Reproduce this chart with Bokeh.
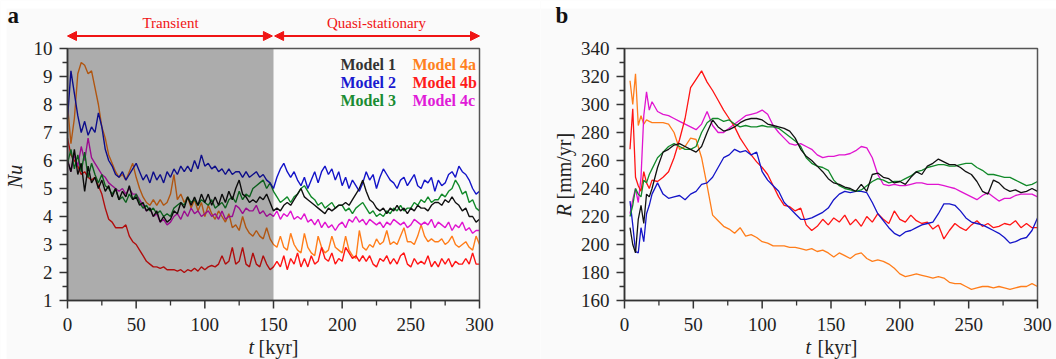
import math
from bokeh.plotting import figure
from bokeh.models import Range1d, Arrow, NormalHead
from bokeh.layouts import row
from bokeh.core.properties import value
from bokeh.embed import file_html
from bokeh.resources import INLINE

# ---------------- data: panel a (Nu vs t) ----------------
t_a = [i * 2.5 for i in range(121)]  # 0 .. 300 kyr

nu_model1 = [
    6.0, 5.6, 6.4, 5.5, 5.9, 4.9, 5.8, 5.2, 5.4, 5.0,
    5.3, 4.9, 5.1, 4.7, 5.0, 4.6, 4.9, 4.7, 5.1, 4.6,
    4.7, 4.4, 4.5, 4.2, 4.3, 4.0, 4.2, 3.8, 4.0, 3.8,
    3.9, 4.2, 4.1, 4.5, 4.3, 4.7, 4.4, 4.7, 4.4, 4.8,
    4.5, 4.8, 4.4, 4.7, 4.4, 4.8, 4.5, 4.9, 4.6, 5.0,
    5.3, 4.8, 4.7, 4.5, 4.6, 4.5, 4.7, 4.6, 4.8, 4.5,
    4.2, 4.3, 4.2, 4.4, 4.5, 4.4, 4.6, 4.8, 5.0, 4.7,
    4.6, 4.5, 4.4, 4.3, 4.2, 4.1, 4.3, 4.2, 4.3, 4.4,
    4.4, 4.5, 4.4, 4.6, 4.8, 5.0, 5.3, 4.9, 4.6, 4.5,
    4.3, 4.2, 4.3, 4.1, 4.3, 4.2, 4.4, 4.2, 4.3, 4.1,
    4.3, 4.2, 4.4, 4.3, 4.3, 4.2, 4.4, 4.5, 4.5, 4.4,
    4.6, 4.5, 4.7, 4.5, 4.4, 4.2, 4.3, 4.0, 4.0, 3.8,
    3.9]
nu_model2 = [
    7.5, 9.2, 8.4, 7.6, 7.0, 7.4, 6.9, 7.2, 7.0, 7.7,
    7.2, 6.4, 6.0, 5.8, 5.5, 5.4, 5.6, 5.3, 5.5, 5.7,
    5.9, 5.6, 5.3, 5.5, 5.2, 5.6, 5.3, 5.5, 5.2, 5.6,
    5.4, 5.7, 5.5, 5.8, 5.6, 5.8, 5.6, 6.0, 5.7, 6.2,
    5.8, 5.9, 5.7, 5.8, 5.6, 5.7, 5.5, 5.7, 5.5, 5.6,
    5.6, 5.4, 5.6, 5.4, 5.5, 5.6, 5.4, 5.5, 5.3, 5.2,
    5.0, 5.4, 5.7, 5.9, 5.6, 5.4, 5.6, 5.3, 5.1, 5.4,
    5.0, 5.3, 5.6, 5.2, 5.6, 5.8, 5.5, 5.7, 5.3, 5.6,
    5.1, 5.4, 5.0, 5.3, 5.1, 4.9, 5.2, 5.6, 5.3, 5.5,
    5.0, 5.4, 5.7, 5.5, 5.3, 5.2, 5.0, 5.3, 5.4, 5.1,
    5.3, 5.5, 5.1, 5.0, 5.3, 5.2, 5.4, 4.9, 5.3, 5.1,
    5.2, 5.5, 5.6, 5.4, 5.8, 5.6, 5.5, 5.3, 5.0, 4.8,
    4.9]
nu_model3 = [
    5.9, 6.4, 5.7, 6.2, 5.6, 6.3, 5.4, 5.9, 5.5, 5.2,
    5.5, 5.1, 5.0, 4.8, 5.0, 4.6, 4.7, 4.5, 4.8, 4.6,
    4.8, 4.5, 4.3, 4.4, 4.2, 4.3, 4.1, 4.2, 4.0, 4.1,
    4.0, 4.3, 4.4, 4.5, 4.4, 4.7, 4.5, 4.6, 4.4, 4.6,
    4.5, 4.4, 4.6, 4.3, 4.4, 4.5, 4.3, 4.6, 4.7, 4.5,
    4.9, 4.6, 4.8, 4.7, 5.0, 5.1, 5.2, 5.3, 5.0, 5.2,
    4.9, 4.7, 4.5, 4.6, 4.7, 4.5, 4.7, 4.8, 5.0, 5.1,
    4.9, 4.7, 4.6, 4.4, 4.5, 4.3, 4.4, 4.5, 4.3, 4.4,
    4.4, 4.2, 4.3, 4.1, 4.3, 4.4, 4.5, 4.3, 4.1, 4.2,
    4.0, 4.1, 4.0, 4.2, 4.1, 4.3, 4.2, 4.4, 4.2, 4.3,
    4.3, 4.5, 4.4, 4.6, 4.5, 4.7, 4.5, 4.6, 4.6, 4.8,
    4.7, 4.9, 5.0, 5.3, 5.1, 4.8, 4.9, 4.5, 4.6, 4.3,
    4.2]
nu_model4a = [
    8.0, 6.6, 7.5, 9.1, 9.5, 9.4, 9.1, 9.2, 8.6, 8.0,
    7.2, 6.8, 6.2, 5.9, 5.6, 5.4, 5.5, 5.3, 5.6, 5.9,
    5.4, 5.0, 4.7, 4.5, 4.4, 4.6, 4.4, 4.6, 4.4, 4.5,
    4.8, 5.5, 4.6, 4.8, 4.5, 4.7, 4.3, 4.6, 4.2, 4.5,
    4.0, 4.4, 4.1, 3.9, 4.2, 4.0, 3.8, 4.1, 3.6, 3.7,
    3.5, 4.0, 3.6, 3.4, 3.3, 3.5, 3.3, 3.2, 3.6, 3.2,
    3.0, 2.9, 3.3, 2.9, 2.8, 3.4, 3.0, 2.8, 2.7, 3.4,
    2.9, 2.7, 2.6, 3.3, 2.9, 2.7, 2.8, 3.3, 2.9, 2.8,
    2.7, 3.3, 2.8, 2.6, 2.5, 3.5, 2.9, 2.8, 3.0, 2.9,
    3.2, 3.0, 3.1, 3.5, 3.0, 3.1, 3.0, 3.3, 3.6, 3.1,
    3.1, 3.0, 3.3, 3.7, 3.3, 3.1, 3.2, 3.1, 3.1, 3.2,
    3.0, 3.1, 3.3, 3.0, 2.9, 3.0, 3.1, 2.9, 2.8, 3.3,
    3.0]
nu_model4b = [
    6.8, 6.2, 6.0, 5.8, 5.5, 5.6, 5.4, 5.3, 5.4, 5.1,
    4.8, 4.3, 3.9, 3.8, 3.6, 3.6, 3.6, 3.7, 3.3, 3.1,
    3.0, 2.8, 2.6, 2.4, 2.3, 2.2, 2.2, 2.15, 2.2, 2.1,
    2.1, 2.1, 2.05, 2.1, 2.0, 2.1, 2.05, 2.15, 2.05, 2.2,
    2.1, 2.2, 2.25, 2.2, 2.3, 2.6, 2.3, 2.4, 2.9, 2.3,
    2.4, 2.9, 2.3, 2.2, 2.7, 2.3, 2.2, 2.6, 2.3, 2.1,
    2.2, 2.4, 2.2, 2.6, 2.1, 2.5, 2.3, 2.7, 2.2, 2.5,
    2.2, 2.6, 2.3, 2.4, 2.9, 2.5, 2.4, 2.7, 2.3, 2.5,
    2.4, 2.9, 2.7, 2.5, 2.6, 2.4, 2.6, 2.4, 2.6, 2.3,
    2.2, 2.5, 2.4, 2.6, 2.3, 2.5, 2.3, 2.6, 2.7, 2.3,
    2.2, 2.5, 2.3, 2.4, 2.3, 2.6, 2.2, 2.4, 2.2, 2.5,
    2.3, 2.5, 2.2, 2.4, 2.3, 2.3, 2.5, 2.3, 2.7, 2.3,
    2.3]
nu_model4c = [
    6.0, 5.6, 6.2, 5.8, 6.5, 6.0, 6.8, 6.1, 5.9, 5.7,
    5.5, 5.4, 5.2, 5.1, 5.0, 4.9, 5.0, 4.8, 5.0, 4.8,
    4.8, 4.6, 4.4, 4.2, 4.3, 4.0, 4.1, 3.8, 3.9, 3.7,
    3.8, 4.0, 4.1, 3.9, 4.2, 4.0, 4.3, 4.1, 4.2, 4.0,
    4.1, 4.2, 4.0, 4.1, 3.9, 4.2, 3.9, 4.0, 4.0, 4.4,
    4.3, 4.1, 4.3, 4.2, 4.2, 4.4, 4.1, 4.2, 4.0, 4.1,
    4.0, 4.2, 3.9, 4.1, 4.0, 4.2, 3.9, 4.0, 3.9, 4.1,
    3.8, 3.9, 3.7, 3.9, 3.6, 3.8, 3.6, 3.7, 3.5, 3.7,
    3.8, 3.6, 3.9, 3.8, 4.0, 3.8, 3.9, 3.7, 3.9, 3.8,
    3.7, 3.8, 3.6, 3.8, 3.7, 3.9, 3.8, 3.7, 3.8, 3.6,
    3.7, 3.9, 3.8, 3.7, 3.8, 3.7, 3.9, 3.6, 3.8, 3.7,
    3.6, 3.8, 3.5, 3.7, 3.6, 3.8, 3.5, 3.6, 3.4, 3.5,
    3.5]

# ---------------- data: panel b (R vs t) ----------------
t_b = [4, 6, 8, 10, 12, 14, 16, 18, 20,
       24, 28, 32, 36, 40, 44, 48, 52, 56, 60,
       64, 68, 72, 76, 80, 84, 88, 92, 96, 100,
       104, 108, 112, 116, 120, 124, 128, 132, 136, 140,
       144, 148, 152, 156, 160, 164, 168, 172, 176, 180,
       184, 188, 192, 196, 200, 204, 208, 212, 216, 220,
       224, 228, 232, 236, 240, 244, 248, 252, 256, 260,
       264, 268, 272, 276, 280, 284, 288, 292, 296, 300]

r_model1 = [212, 200, 194, 218, 228, 215, 236, 234, 240,
            255, 266, 268, 271, 272, 270, 268, 266, 270, 280,
            289, 284, 281, 282, 284, 287, 289, 290, 290, 289,
            286, 285, 284, 283, 281, 276, 268, 263, 260, 256,
            252, 247, 244, 243, 241, 240, 238, 243, 238, 250,
            251, 248, 247, 244, 245, 243, 248, 252, 250, 256,
            258, 261, 259, 257, 257, 255, 252, 250, 245, 238,
            236, 246, 244, 240, 238, 239, 237, 238, 240, 238]
r_model2 = [231, 214, 195, 194, 212, 202, 222, 228, 236,
            244, 236, 233, 234, 235, 232, 236, 238, 243, 244,
            248, 255, 262, 264, 268, 266, 267, 264, 266, 252,
            246, 242, 238, 230, 226, 222, 218, 218, 219, 221,
            223, 226, 232, 236, 238, 237, 238, 238, 237, 230,
            222, 217, 212, 208, 206, 209, 210, 212, 214, 215,
            216, 222, 229, 229, 228, 224, 219, 216, 215, 214,
            212, 210, 208, 205, 201, 202, 204, 205, 210, 219]
r_model3 = [220, 228, 240, 236, 234, 246, 244, 250, 254,
            262, 266, 270, 272, 270, 268, 268, 270, 280, 287,
            290, 290, 288, 289, 286, 284, 285, 284, 284, 285,
            284, 284, 283, 280, 277, 274, 270, 262, 258, 256,
            255, 253, 246, 242, 240, 239, 238, 239, 242, 245,
            247, 246, 244, 245, 245, 247, 249, 252, 253, 255,
            256, 257, 257, 256, 256, 257, 258, 258, 255, 253,
            250, 250, 249, 248, 248, 246, 244, 242, 243, 245]
r_model4a = [317, 300, 322, 285, 292, 286, 289, 288, 287,
             287, 287, 286, 280, 268, 270, 276, 275, 262, 242,
             221, 217, 213, 211, 208, 212, 206, 207, 205, 202,
             201, 199, 199, 199, 198, 198, 197, 196, 197, 195,
             196, 194, 191, 194, 192, 190, 193, 194, 190, 188,
             189, 188, 186, 183, 179, 177, 178, 179, 178, 177,
             176, 177, 176, 173, 172, 172, 170, 168, 169, 170,
             170, 169, 170, 169, 168, 169, 170, 170, 172, 170]
r_model4b = [268, 297, 248, 242, 238, 252, 244, 240, 246,
             245, 248, 252, 262, 275, 290, 312, 318, 324, 316,
             310, 303, 296, 290, 284, 276, 270, 264, 259, 255,
             250, 242, 234, 228, 227, 224, 226, 214, 210, 213,
             218, 214, 219, 216, 221, 214, 218, 213, 220, 216,
             222, 218, 215, 224, 218, 216, 221, 217, 215, 216,
             211, 214, 204, 210, 215, 212, 210, 214, 217, 213,
             215, 212, 213, 215, 214, 217, 212, 215, 212, 212]
r_model4c = [222, 232, 240, 230, 248, 292, 309, 296, 302,
             295, 293, 292, 290, 288, 286, 284, 282, 286, 295,
             285, 280, 280, 283, 286, 289, 292, 293, 294, 296,
             293, 285, 280, 276, 272, 271, 272, 270, 268, 264,
             262, 263, 263, 264, 264, 265, 267, 270, 269, 262,
             250, 243, 242, 243, 242, 242, 243, 244, 244, 243,
             243, 243, 242, 241, 240, 238, 236, 234, 232, 235,
             237, 234, 231, 233, 233, 235, 236, 236, 236, 234]

model_names = ["Model 1", "Model 2", "Model 3", "Model 4a", "Model 4b", "Model 4c"]
x_major_ticks = [0, 50, 100, 150, 200, 250, 300]
x_minor_ticks = [25, 75, 125, 175, 225, 275]
nu_major_ticks = [1, 2, 3, 4, 5, 6, 7, 8, 9, 10]
nu_minor_ticks = [1.5, 2.5, 3.5, 4.5, 5.5, 6.5, 7.5, 8.5, 9.5]
r_major_ticks = [160, 180, 200, 220, 240, 260, 280, 300, 320, 340]
r_minor_ticks = [170, 190, 210, 230, 250, 270, 290, 310, 330]
phase_labels = ["Transient", "Quasi-stationary"]
phase_bounds = [0, 150, 300]

# ---------------- style ----------------
FONT = "Liberation Serif"
BG = "#fafafa"
RED = "#f01414"
AXC = "#333333"
colors = {"Model 1": "#111111", "Model 2": "#1414c8", "Model 3": "#128a2a",
          "Model 4a": "#ff7d1a", "Model 4b": "#ff1414", "Model 4c": "#e014d0"}
legend_colors = {"Model 1": "#333333", "Model 2": "#1a1ad0", "Model 3": "#1a8c33",
                 "Model 4a": "#ff8020", "Model 4b": "#ff1a1a", "Model 4c": "#e01ad8"}


class Panel:
    """Figure whose frame is the whole canvas; data box placed at given page pixels."""

    def __init__(self, page_left, page_right, page_top, page_bottom,
                 box_left, box_right, box_top, box_bottom, xr, yr):
        self.bl, self.bt = box_left, box_top
        self.sx = (box_right - box_left) / (xr[1] - xr[0])
        self.sy = (box_bottom - box_top) / (yr[1] - yr[0])
        self.x0, self.y1 = xr[0], yr[1]
        self.xr, self.yr = xr, yr
        self.page = (page_left, page_right, page_top, page_bottom)
        xs, _ = self.d(page_left, 0)
        xe, _ = self.d(page_right, 0)
        _, ye = self.d(0, page_top)
        _, ys = self.d(0, page_bottom)
        self.p = figure(frame_width=page_right - page_left, frame_height=page_bottom - page_top,
                        x_range=Range1d(xs, xe), y_range=Range1d(ys, ye),
                        min_border=0, x_axis_location=None, y_axis_location=None,
                        output_backend="svg", toolbar_location=None,
                        background_fill_color=BG, border_fill_color=BG)
        self.p.outline_line_color = None
        self.p.xgrid.visible = False
        self.p.ygrid.visible = False

    def d(self, px, py):
        return self.x0 + (px - self.bl) / self.sx, self.y1 - (py - self.bt) / self.sy

    def white_strip(self, x_a, x_b, y_a, y_b):
        l, t = self.d(x_a, y_a)
        r, b = self.d(x_b, y_b)
        self.p.quad(left=[l], right=[r], top=[t], bottom=[b], fill_color="white", line_color=None)

    def text(self, px, py, txt, size="20px", style="normal", color="#222222",
             align="left", baseline="middle", angle=0.0):
        x, y = self.d(px, py)
        self.p.text(x=[x], y=[y], text=[txt], text_font=value(FONT), text_font_size=value(size),
                    text_font_style=style, text_color=color, text_align=align,
                    text_baseline=baseline, angle=angle)

    def axes(self, xmaj, xmin, ymaj, ymin, ylabels):
        p = self.p
        x0, x1 = self.xr
        y0, y1 = self.yr
        p.quad(left=[x0], right=[x1], bottom=[y0], top=[y1], fill_color=None,
               line_color="#555555", line_width=1.5)
        p.segment(x0=[x0, x0], y0=[y0, y0], x1=[x1, x0], y1=[y0, y1], line_color=AXC, line_width=1.6)
        maj_x, min_x = 8 / self.sx, 5 / self.sx
        maj_y, min_y = 8 / self.sy, 5 / self.sy
        p.segment(x0=xmaj, y0=[y0] * len(xmaj), x1=xmaj, y1=[y0 - maj_y] * len(xmaj),
                  line_color=AXC, line_width=1.5)
        p.segment(x0=xmin, y0=[y0] * len(xmin), x1=xmin, y1=[y0 - min_y] * len(xmin),
                  line_color=AXC, line_width=1.3)
        p.segment(x0=[x0] * len(ymaj), y0=ymaj, x1=[x0 - maj_x] * len(ymaj), y1=ymaj,
                  line_color=AXC, line_width=1.5)
        p.segment(x0=[x0] * len(ymin), y0=ymin, x1=[x0 - min_x] * len(ymin), y1=ymin,
                  line_color=AXC, line_width=1.3)
        _, ylab = self.d(0, 317)
        p.text(x=xmaj, y=[ylab] * len(xmaj), text=[str(v) for v in xmaj],
               text_font=value(FONT), text_font_size=value("19px"), text_color="#222222",
               text_align="center", text_baseline="top")
        xlab = x0 - 15 / self.sx
        p.text(x=[xlab] * len(ymaj), y=ymaj, text=ylabels,
               text_font=value(FONT), text_font_size=value("19px"), text_color="#222222",
               text_align="right", text_baseline="middle")


# ---------------- panel a ----------------
A = Panel(0, 540, 0, 359, 67, 479, 48, 300, (0, 300), (1, 10))
pa = A.p
A.white_strip(0, 540, 0, 8)
A.white_strip(0, 6, 0, 359)
series_a = {"Model 1": nu_model1, "Model 2": nu_model2, "Model 3": nu_model3,
            "Model 4a": nu_model4a, "Model 4b": nu_model4b, "Model 4c": nu_model4c}
for name in ["Model 4a", "Model 4b", "Model 4c", "Model 3", "Model 2", "Model 1"]:
    pa.line(t_a, series_a[name], line_color=colors[name], line_width=1.4)
# gray shading over the transient phase
pa.quad(left=[phase_bounds[0]], right=[phase_bounds[1]], bottom=[A.yr[0]], top=[A.yr[1]],
        fill_color="black", fill_alpha=0.31, line_color=None)
A.axes(x_major_ticks, x_minor_ticks, nu_major_ticks, nu_minor_ticks, [str(v) for v in nu_major_ticks])

# phase arrows and labels
_, ya = A.d(0, 35.5)
_, yt = A.d(0, 22)
for i in range(2):
    gap = 0.8
    xs = phase_bounds[i] + (gap if i == 1 else 0)
    xe = phase_bounds[i + 1] - (gap if i == 0 else 0)
    pa.add_layout(Arrow(x_start=xs, y_start=ya, x_end=xe, y_end=ya,
                        line_color=RED, line_width=2,
                        start=NormalHead(size=9, fill_color=RED, line_color=RED),
                        end=NormalHead(size=9, fill_color=RED, line_color=RED)))
    pa.text(x=[(phase_bounds[i] + phase_bounds[i + 1]) / 2], y=[yt], text=[phase_labels[i]],
            text_font=value(FONT), text_font_size=value("15px"), text_color=RED,
            text_align="center", text_baseline="middle")

# legend
cols = [model_names[:3], model_names[3:]]
for ci, col in enumerate(cols):
    for ri, name in enumerate(col):
        A.text(340 + 72 * ci, 64 + 18 * ri, name, size="16px", style="bold", color=legend_colors[name])

A.text(7, 15, "a", size="23px", style="bold", color="#111111")
A.text(248, 346, "t", style="italic")
A.text(258, 346, "[kyr]")
A.text(14, 176, "Nu", style="italic", align="center", angle=math.pi / 2)

# ---------------- panel b ----------------
B = Panel(540, 1056, 0, 359, 624, 1037, 48, 300, (0, 300), (160, 340))
pb = B.p
B.white_strip(540, 1056, 0, 8)
series_b = {"Model 1": r_model1, "Model 2": r_model2, "Model 3": r_model3,
            "Model 4a": r_model4a, "Model 4b": r_model4b, "Model 4c": r_model4c}
for name in ["Model 4a", "Model 4c", "Model 4b", "Model 2", "Model 3", "Model 1"]:
    pb.line(t_b, series_b[name], line_color=colors[name], line_width=1.3)
B.axes(x_major_ticks, x_minor_ticks, r_major_ticks, r_minor_ticks, [str(v) for v in r_major_ticks])

B.text(555, 15, "b", size="23px", style="bold", color="#111111")
B.text(805, 346, "t", style="italic")
B.text(817, 346, "[kyr]")
B.text(563, 216, "R", style="italic", angle=math.pi / 2)
B.text(563, 199, "[mm/yr]", angle=math.pi / 2)

layout = row(pa, pb)
open("out.html", "w").write(file_html(layout, INLINE))
